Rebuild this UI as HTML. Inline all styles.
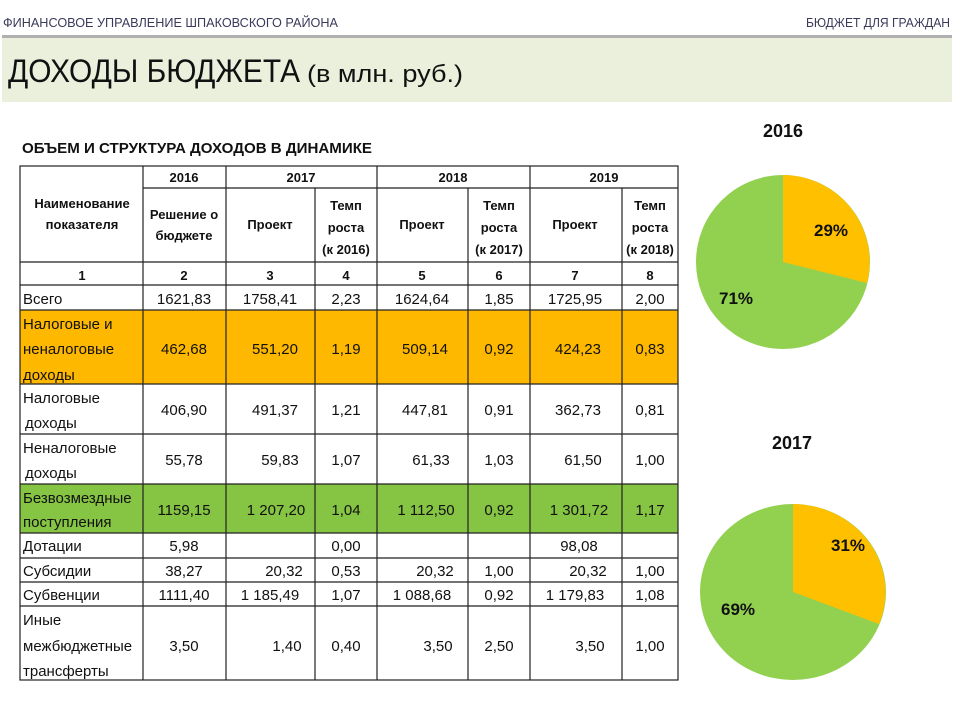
<!DOCTYPE html>
<html><head><meta charset="utf-8"><style>
body{margin:0;background:#fff;width:960px;height:720px;overflow:hidden}
svg{display:block}
text{font-family:"Liberation Sans",sans-serif;fill:#111}
</style></head><body>
<svg width="960" height="720" xmlns="http://www.w3.org/2000/svg">
<text x="3" y="27" font-size="13" fill="#3a3a5a" textLength="335" lengthAdjust="spacingAndGlyphs" style="fill:#3a3a5a">ФИНАНСОВОЕ УПРАВЛЕНИЕ ШПАКОВСКОГО РАЙОНА</text>
<text x="806" y="27" font-size="13" textLength="144" lengthAdjust="spacingAndGlyphs" style="fill:#3a3a5a">БЮДЖЕТ ДЛЯ ГРАЖДАН</text>
<rect x="2" y="35" width="950" height="3" fill="#b0b0b0"/>
<rect x="2" y="38" width="950" height="64" fill="#ebf0dc"/>
<text x="8" y="82" font-size="32" textLength="292" lengthAdjust="spacingAndGlyphs">ДОХОДЫ БЮДЖЕТА</text>
<text x="307" y="82" font-size="24" textLength="156" lengthAdjust="spacingAndGlyphs">(в млн. руб.)</text>
<text x="22" y="153" font-size="15" font-weight="bold" textLength="350" lengthAdjust="spacingAndGlyphs">ОБЪЕМ И СТРУКТУРА ДОХОДОВ В ДИНАМИКЕ</text>

<!-- row fills -->
<rect x="20" y="310" width="658" height="74" fill="#ffb800"/>
<rect x="20" y="484" width="658" height="49" fill="#86c443"/>

<g stroke="#222" stroke-width="1.2" fill="none">
<rect x="20" y="166" width="658" height="514"/>
<line x1="143" y1="188" x2="678" y2="188"/>
<line x1="20" y1="262" x2="678" y2="262"/>
<line x1="20" y1="285" x2="678" y2="285"/>
<line x1="20" y1="310" x2="678" y2="310"/>
<line x1="20" y1="384" x2="678" y2="384"/>
<line x1="20" y1="434" x2="678" y2="434"/>
<line x1="20" y1="484" x2="678" y2="484"/>
<line x1="20" y1="533" x2="678" y2="533"/>
<line x1="20" y1="558" x2="678" y2="558"/>
<line x1="20" y1="582" x2="678" y2="582"/>
<line x1="20" y1="606" x2="678" y2="606"/>
<line x1="143" y1="166" x2="143" y2="680"/>
<line x1="226" y1="166" x2="226" y2="680"/>
<line x1="315" y1="188" x2="315" y2="680"/>
<line x1="377" y1="166" x2="377" y2="680"/>
<line x1="468" y1="188" x2="468" y2="680"/>
<line x1="530" y1="166" x2="530" y2="680"/>
<line x1="622" y1="188" x2="622" y2="680"/>
</g>

<g font-size="13" font-weight="bold" text-anchor="middle">
<text x="184" y="182">2016</text><text x="301" y="182">2017</text><text x="453" y="182">2018</text><text x="604" y="182">2019</text>
<text x="82" y="208">Наименование</text><text x="82" y="229">показателя</text>
<text x="184" y="219">Решение о</text><text x="184" y="240">бюджете</text>
<text x="270" y="229">Проект</text><text x="422" y="229">Проект</text><text x="575" y="229">Проект</text>
<text x="346" y="210">Темп</text><text x="346" y="232">роста</text><text x="346" y="254">(к 2016)</text>
<text x="499" y="210">Темп</text><text x="499" y="232">роста</text><text x="499" y="254">(к 2017)</text>
<text x="650" y="210">Темп</text><text x="650" y="232">роста</text><text x="650" y="254">(к 2018)</text>
<text x="82" y="280">1</text><text x="184" y="280">2</text><text x="270" y="280">3</text><text x="346" y="280">4</text><text x="422" y="280">5</text><text x="499" y="280">6</text><text x="575" y="280">7</text><text x="650" y="280">8</text>
</g>

<g font-size="15">
<text x="23" y="304">Всего</text>
<text x="23" y="329">Налоговые и</text><text x="23" y="354">неналоговые</text><text x="23" y="380">доходы</text>
<text x="23" y="403">Налоговые</text><text x="25" y="428">доходы</text>
<text x="23" y="453">Неналоговые</text><text x="25" y="478">доходы</text>
<text x="23" y="503">Безвозмездные</text><text x="23" y="527">поступления</text>
<text x="23" y="551">Дотации</text>
<text x="23" y="576">Субсидии</text>
<text x="23" y="600">Субвенции</text>
<text x="23" y="625">Иные</text><text x="23" y="651">межбюджетные</text><text x="23" y="676">трансферты</text>
</g>
<g font-size="15" text-anchor="middle">
<text x="184" y="304">1621,83</text><text x="270" y="304">1758,41</text><text x="346" y="304">2,23</text><text x="422" y="304">1624,64</text><text x="499" y="304">1,85</text><text x="575" y="304">1725,95</text><text x="650" y="304">2,00</text>
<text x="184" y="354">462,68</text><text x="275" y="354">551,20</text><text x="346" y="354">1,19</text><text x="425" y="354">509,14</text><text x="499" y="354">0,92</text><text x="578" y="354">424,23</text><text x="650" y="354">0,83</text>
<text x="184" y="415">406,90</text><text x="275" y="415">491,37</text><text x="346" y="415">1,21</text><text x="425" y="415">447,81</text><text x="499" y="415">0,91</text><text x="578" y="415">362,73</text><text x="650" y="415">0,81</text>
<text x="184" y="465">55,78</text><text x="280" y="465">59,83</text><text x="346" y="465">1,07</text><text x="431" y="465">61,33</text><text x="499" y="465">1,03</text><text x="583" y="465">61,50</text><text x="650" y="465">1,00</text>
<text x="184" y="515">1159,15</text><text x="276" y="515">1 207,20</text><text x="346" y="515">1,04</text><text x="426" y="515">1 112,50</text><text x="499" y="515">0,92</text><text x="579" y="515">1 301,72</text><text x="650" y="515">1,17</text>
<text x="184" y="551">5,98</text><text x="346" y="551">0,00</text><text x="579" y="551">98,08</text>
<text x="184" y="576">38,27</text><text x="284" y="576">20,32</text><text x="346" y="576">0,53</text><text x="435" y="576">20,32</text><text x="499" y="576">1,00</text><text x="588" y="576">20,32</text><text x="650" y="576">1,00</text>
<text x="184" y="600">1111,40</text><text x="270" y="600">1 185,49</text><text x="346" y="600">1,07</text><text x="422" y="600">1 088,68</text><text x="499" y="600">0,92</text><text x="575" y="600">1 179,83</text><text x="650" y="600">1,08</text>
<text x="184" y="651">3,50</text><text x="287" y="651">1,40</text><text x="346" y="651">0,40</text><text x="438" y="651">3,50</text><text x="499" y="651">2,50</text><text x="590" y="651">3,50</text><text x="650" y="651">1,00</text>
</g>

<!-- pies -->
<text x="783" y="137" font-size="18" font-weight="bold" text-anchor="middle">2016</text>
<circle cx="783" cy="262" r="87" fill="#92d050"/>
<path d="M783,262 L783,175 A87,87 0 0 1 867,283 Z" fill="#ffc000"/>
<text x="831" y="236" font-size="17" font-weight="bold" text-anchor="middle">29%</text>
<text x="736" y="304" font-size="17" font-weight="bold" text-anchor="middle">71%</text>

<text x="792" y="449" font-size="18" font-weight="bold" text-anchor="middle">2017</text>
<ellipse cx="793" cy="592" rx="93" ry="88" fill="#92d050"/>
<path d="M793,592 L793,504 A93,88 0 0 1 879,624 Z" fill="#ffc000"/>
<text x="848" y="551" font-size="17" font-weight="bold" text-anchor="middle">31%</text>
<text x="738" y="615" font-size="17" font-weight="bold" text-anchor="middle">69%</text>
</svg>
</body></html>
